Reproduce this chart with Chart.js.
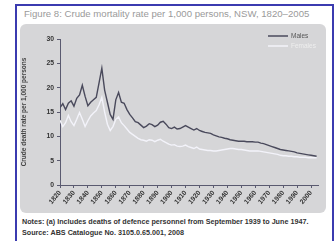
<!DOCTYPE html>
<html><head><meta charset="utf-8">
<script src="https://cdn.jsdelivr.net/npm/chart.js@4.4.1/dist/chart.umd.min.js"></script>
<style>
html,body{margin:0;padding:0;background:#fff;width:335px;height:241px;overflow:hidden;font-family:"Liberation Sans",Arial,sans-serif;}
#frame{position:absolute;left:15px;top:4px;width:315px;height:260px;border-left:2px solid #3b3bb0;border-top:2px solid #3b3bb0;border-right:2px solid #3b3bb0;}
#title{position:absolute;left:24px;top:8px;font-size:9.6px;color:#9a9a9a;white-space:nowrap;}
#panel{position:absolute;left:20px;top:24px;width:306px;height:189px;background:#d6d6d8;border-radius:6px;}
#cv{position:absolute;left:0;top:0;}
#notes{position:absolute;left:22px;top:216px;font-size:7.2px;color:#333;font-weight:bold;line-height:11px;white-space:nowrap;}
</style>
</head><body>
<div id="frame"></div>
<div id="title">Figure 8: Crude mortality rate per 1,000 persons, NSW, 1820–2005</div>
<div id="panel"><canvas id="cv" width="306" height="189"></canvas></div>
<div id="notes">Notes: (a) Includes deaths of defence personnel from September 1939 to June 1947.<br>Source: ABS Catalogue No. 3105.0.65.001, 2008</div>
<script>
const years = [1820,1822,1824,1826,1828,1830,1832,1834,1836,1838,1840,1842,1844,1846,1848,1850,1852,1854,1856,1858,
1860,1862,1864,1866,1868,1870,1872,1874,1876,1878,1880,1882,1884,1886,1888,1890,1892,1894,1896,1898,
1900,1902,1904,1906,1908,1910,1912,1914,1916,1918,1920,1922,1924,1926,1928,1930,1932,1934,1936,1938,
1940,1942,1944,1946,1948,1950,1952,1954,1956,1958,1960,1962,1964,1966,1968,1970,1972,1974,1976,1978,
1980,1982,1984,1986,1988,1990,1992,1994,1996,1998,2000,2002,2004];
const males = [15.9,16.7,15.5,16.8,17.3,16.2,17.8,18.5,20.5,18.2,16.3,17.0,17.5,18.0,21.0,24.0,19.5,17.0,14.5,13.5,
17.5,19.0,17.0,16.8,15.5,14.5,13.8,13.0,12.8,12.3,11.8,12.1,12.6,12.4,12.0,12.3,12.9,13.1,12.5,11.8,
11.6,11.9,11.5,11.6,11.9,12.2,11.9,11.6,11.3,11.6,11.2,11.0,10.8,10.7,10.6,10.3,10.1,9.9,9.8,9.6,
9.5,9.3,9.2,9.1,9.0,9.0,9.0,8.9,8.9,8.9,8.8,8.8,8.6,8.5,8.3,8.1,7.9,7.7,7.5,7.3,
7.2,7.1,7.0,6.9,6.8,6.6,6.5,6.4,6.3,6.2,6.1,6.0,5.9];
const females = [13.3,12.0,12.8,14.3,13.0,12.2,13.5,14.9,13.5,12.0,13.2,14.2,14.8,15.3,16.5,18.0,15.0,12.5,11.2,12.0,
13.5,14.0,12.8,12.2,11.5,10.8,10.4,10.0,9.6,9.3,9.2,9.0,9.3,9.2,8.9,9.2,9.4,9.0,8.7,8.4,
8.2,8.3,8.0,7.9,8.0,8.2,7.9,7.7,7.5,7.8,7.4,7.3,7.2,7.1,7.1,7.0,7.0,7.1,7.2,7.3,
7.4,7.5,7.5,7.4,7.3,7.3,7.2,7.1,7.0,7.0,7.0,7.0,6.9,6.8,6.7,6.6,6.5,6.4,6.3,6.1,
6.0,6.0,5.9,5.9,5.8,5.8,5.7,5.7,5.7,5.6,5.6,5.6,5.6];
const xTickYears = [1820,1830,1840,1850,1860,1870,1880,1890,1900,1910,1920,1930,1940,1950,1960,1970,1980,1990,2000];
const seriesNames = ['Males','Females'];
const yTitle = 'Crude death rate per 1,000 persons';

const pts = arr => arr.map((v,i)=>({x:years[i], y:v}));

const legendPlugin = {
  id:'boxLegend',
  afterDatasetsDraw(chart){
    const c = chart.ctx, a = chart.chartArea;
    c.save();
    c.font = '6.5px "Liberation Sans", Arial, sans-serif';
    c.textBaseline = 'middle';
    chart.data.datasets.forEach((ds,i)=>{
      const y = a.top - 3 + i*10;
      const x0 = a.right - 50;
      c.strokeStyle = ds.borderColor; c.lineWidth = 1.5;
      c.beginPath(); c.moveTo(x0,y); c.lineTo(x0+20,y); c.stroke();
      c.fillStyle = i===0 ? '#555' : '#eee';
      c.fillText(ds.label, x0+23, y);
    });
    c.restore();
  }
};

Chart.defaults.font.family = '"Liberation Sans", Arial, sans-serif';
new Chart(document.getElementById('cv'), {
  type:'line',
  data:{datasets:[
    {label:seriesNames[0], data:pts(males), borderColor:'#4a4a5c', borderWidth:1.4, pointRadius:0, tension:0, order:0},
    {label:seriesNames[1], data:pts(females), borderColor:'#f3f3fa', borderWidth:1.4, pointRadius:0, tension:0, order:1}
  ]},
  options:{
    responsive:false, animation:false,
    layout:{padding:{left:0, right:8, top:15, bottom:0}},
    plugins:{legend:{display:false}, tooltip:{enabled:false}},
    scales:{
      x:{type:'linear', min:1820, max:2005,
        afterBuildTicks(s){ s.ticks = xTickYears.map(v=>({value:v})); },
        afterFit(s){ s.height = 28; },
        border:{color:'#5a5a70', width:1},
        grid:{drawOnChartArea:false, tickLength:3, color:'#5a5a70'},
        ticks:{autoSkip:false, maxRotation:50, minRotation:50, padding:1,
          color:'#333', font:{size:6.8, weight:'bold'}, callback:v=>String(v)}
      },
      y:{min:0, max:30,
        afterFit(s){ s.width = 40; },
        border:{color:'#5a5a70', width:1},
        grid:{drawOnChartArea:false, tickLength:3, color:'#5a5a70'},
        title:{display:true, text:yTitle, color:'#444', font:{size:6.5, weight:'bold'}, padding:{top:0,bottom:4}},
        ticks:{stepSize:5, padding:3, color:'#333', font:{size:6.8, weight:'bold'}}
      }
    }
  },
  plugins:[legendPlugin]
});
</script>
</body></html>
